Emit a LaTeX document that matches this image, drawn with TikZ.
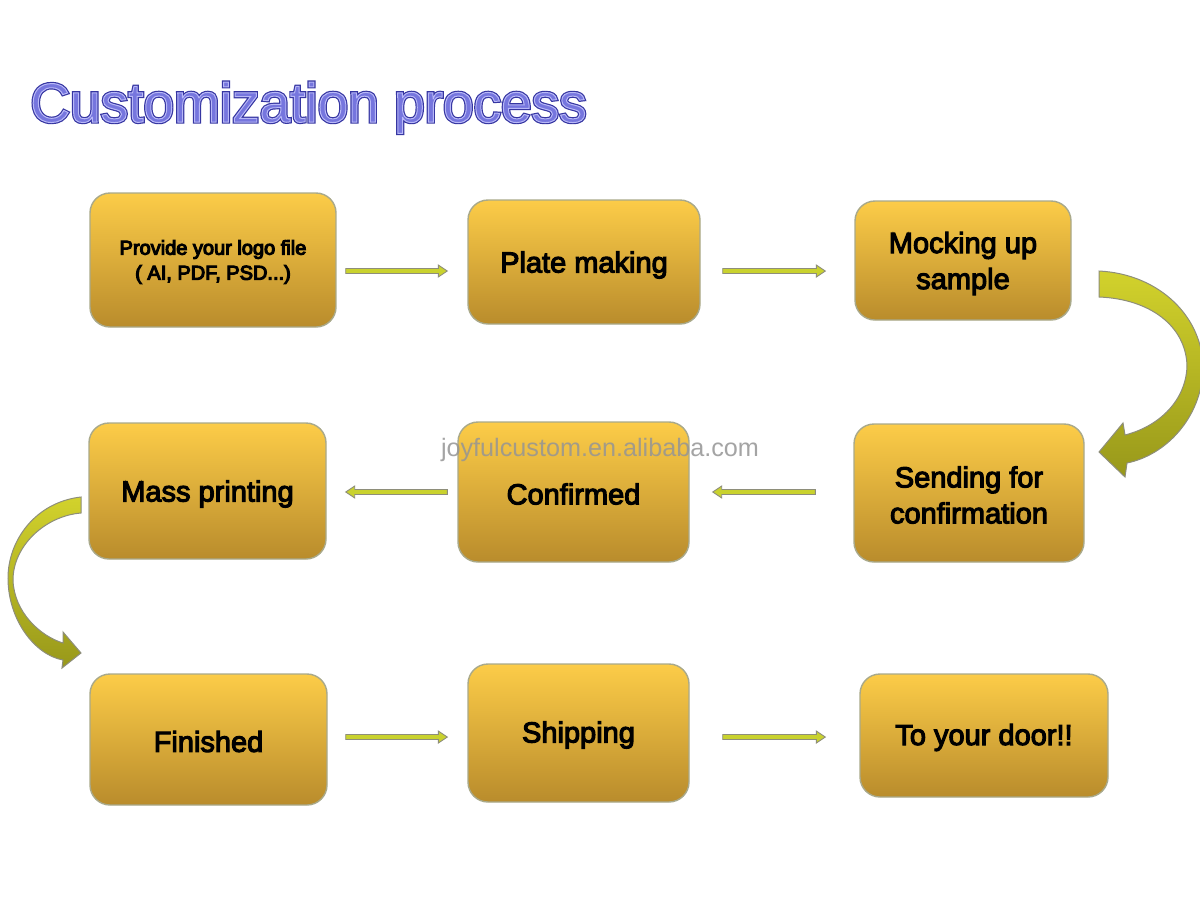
\documentclass[tikz,border=0pt]{standalone}
\usepackage{fontspec}
\setmainfont{Liberation Sans}
\newfontfamily\boxfont{Liberation Sans}
\newfontfamily\titlefont{Liberation Sans}
\usetikzlibrary{calc}
\definecolor{boxtop}{HTML}{FCCC48}
\definecolor{boxmid}{HTML}{EFBF40}
\definecolor{boxbot}{HTML}{B98C2C}
\definecolor{boxline}{HTML}{A9A98A}
\definecolor{arrfill}{HTML}{C9D22E}
\definecolor{arrline}{HTML}{8E8E7A}
\definecolor{curvetop}{HTML}{D2D22C}
\definecolor{curvebot}{HTML}{98981A}
\definecolor{titlefill}{HTML}{7676DE}
\definecolor{titledark}{HTML}{3636A2}
\definecolor{wmark}{HTML}{959595}
\newcommand\rarrow[2]{\path[flatarrow] let \p1=#1, \p2=#2 in
  (\x1,\y1+1.25pt) -- (\x2-4.5pt,\y1+1.25pt) -- (\x2-4.5pt,\y1+3pt) -- (\x2,\y1)
  -- (\x2-4.5pt,\y1-3pt) -- (\x2-4.5pt,\y1-1.25pt) -- (\x1,\y1-1.25pt) -- cycle;}
\newcommand\larrow[2]{\path[flatarrow] let \p1=#1, \p2=#2 in
  (\x1,\y1+1.25pt) -- (\x2+4.5pt,\y1+1.25pt) -- (\x2+4.5pt,\y1+3pt) -- (\x2,\y1)
  -- (\x2+4.5pt,\y1-3pt) -- (\x2+4.5pt,\y1-1.25pt) -- (\x1,\y1-1.25pt) -- cycle;}
\newcommand\heavy[1]{\special{pdf:literal direct 2 Tr 0.55 w 0 0 0 RG}#1\special{pdf:literal direct 0 Tr 0.4 w}}
\begin{document}
\begin{tikzpicture}[x=0.5pt,y=-0.5pt,
  stepbox/.style={draw=boxline, line width=0.7pt, rounded corners=10pt,
    top color=boxtop, middle color=boxmid, bottom color=boxbot, inner sep=0pt},
  boxlabel/.style={align=center, text=black, inner sep=0pt,
    font=\boxfont\fontsize{14.5}{18}\selectfont},
  smalllabel/.style={boxlabel, font=\boxfont\fontsize{10}{12.5}\selectfont},
  flatarrow/.style={fill=arrfill, draw=arrline, line width=0.45pt, line join=miter},
  curvearrow/.style={top color=curvetop, bottom color=curvebot, draw=arrline, line width=0.5pt},
  titlestyle/.style={anchor=base west, inner sep=0pt, font=\titlefont\fontsize{27.5}{30}\selectfont}]
\useasboundingbox (0,0) rectangle (1200,900);
\fill[white] (0,0) rectangle (1200,900);

% title (two layers: dark outline, then light fill)
\node[titlestyle] (title) at (30,122) {{\color{titledark}\special{pdf:literal direct 2 Tr 1.7 w}Customization process\special{pdf:literal direct 0 Tr 0.4 w}}};
\node[titlestyle] (titletop) at (30,122) {{\color{titlefill}\special{pdf:literal direct 2 Tr 0.5 w 0.72 0.72 0.97 RG}Customization process\special{pdf:literal direct 0 Tr 0.4 w}}};

% boxes
\node[stepbox, minimum width=123pt, minimum height=67pt] (b1) at (213,260) {};
\node[stepbox, minimum width=116pt, minimum height=62pt] (b2) at (584,262) {};
\node[stepbox, minimum width=108pt, minimum height=59.5pt] (b3) at (963,260.5) {};
\node[stepbox, minimum width=115pt, minimum height=69pt] (b4) at (969,493) {};
\node[stepbox, minimum width=115.5pt, minimum height=70pt] (b5) at (573.5,492) {};
\node[stepbox, minimum width=118.5pt, minimum height=68pt] (b6) at (207.5,491) {};
\node[stepbox, minimum width=118.5pt, minimum height=65.5pt] (b7) at (208.5,739.5) {};
\node[stepbox, minimum width=110.5pt, minimum height=69pt] (b8) at (578.5,733) {};
\node[stepbox, minimum width=124pt, minimum height=61.5pt] (b9) at (984,735.5) {};

% box texts
\node[smalllabel] (t1) at ($(b1.center)+(0,2)$) {\heavy{Provide your logo file\\( AI, PDF, PSD...)}};
\node[boxlabel] (t2) at ($(b2.center)+(0,3)$) {\heavy{Plate making}};
\node[boxlabel] (t3) at ($(b3.center)+(0,3)$) {\heavy{Mocking up\\sample}};
\node[boxlabel] (t4) at ($(b4.center)+(0,2)$) {\heavy{Sending for\\confirmation}};
\node[boxlabel] (t5) at ($(b5.center)+(0,2)$) {\heavy{Confirmed}};
\node[boxlabel] (t6) at ($(b6.center)+(0,3)$) {\heavy{Mass printing}};
\node[boxlabel] (t7) at ($(b7.center)+(0,2)$) {\heavy{Finished}};
\node[boxlabel] (t8) at ($(b8.center)+(0,2)$) {\heavy{Shipping}};
\node[boxlabel] (t9) at ($(b9.center)+(0,2)$) {\heavy{To your door!!}};

% straight arrows
\rarrow{($(b1.east)+(9,11)$)}{($(b2.west)+(-20,9)$)}
\rarrow{($(b2.east)+(22,9)$)}{($(b3.west)+(-29,9)$)}
\larrow{($(b4.west)+(-38,-1)$)}{($(b5.east)+(23,0)$)}
\larrow{($(b5.west)+(-10,0)$)}{($(b6.east)+(19,0)$)}
\rarrow{($(b7.east)+(18,-2.5)$)}{($(b8.west)+(-20,4)$)}
\rarrow{($(b8.east)+(33,4)$)}{($(b9.west)+(-34,0)$)}

% curved arrow from b3 to b4
\path[curvearrow] (1099,271) .. controls (1160,274) and (1204,318) .. (1203,370)
  .. controls (1201,418) and (1166,455) .. (1127,463)
  -- (1125,477) -- (1099,452) -- (1123,423) -- (1125,435)
  .. controls (1160,426) and (1186,400) .. (1187,366)
  .. controls (1186,326) and (1150,299) .. (1099,297) -- cycle;

% curved arrow from b6 to b7
\path[curvearrow] (81,497) .. controls (36,502) and (8,540) .. (8,578)
  .. controls (8,620) and (35,655) .. (63,660)
  -- (62,668) -- (81,653) -- (63,632) -- (63,643)
  .. controls (40,636) and (14,612) .. (13,580)
  .. controls (13,546) and (45,516) .. (81,513) -- cycle;

% watermark
\node[text=wmark, text opacity=0.85, font=\fontsize{12.6}{14}\selectfont, inner sep=0pt] (wm) at (600,450) {joyfulcustom.en.alibaba.com};
\end{tikzpicture}
\end{document}
